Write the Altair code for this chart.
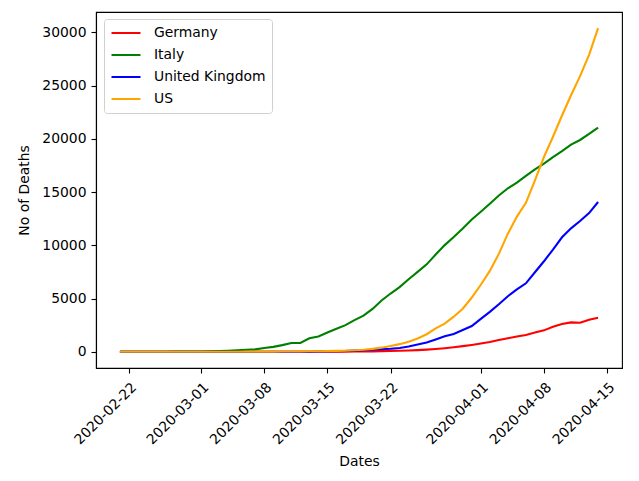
import altair as alt
import pandas as pd

dates = pd.date_range("2020-02-21", "2020-04-14", freq="D").strftime("%Y-%m-%dT00:00:00").tolist()

germany = [0]*17 + [0, 2, 2, 3, 3, 7, 9, 11, 17, 24, 28, 44, 67, 84, 94, 123, 157, 206, 267, 342,
           433, 533, 645, 775, 920, 1107, 1275, 1444, 1584, 1810, 2016, 2349, 2607, 2767, 2736,
           3022, 3194, 3294]
italy = [1, 2, 3, 7, 10, 12, 17, 21, 29, 34, 52, 79, 107, 148, 197, 233, 366, 463, 631, 827, 827,
         1266, 1441, 1809, 2158, 2503, 2978, 3405, 4032, 4825, 5476, 6077, 6820, 7503, 8215, 9134,
         10023, 10779, 11591, 12428, 13155, 13915, 14681, 15362, 15887, 16523, 17127, 17669, 18279,
         18849, 19468, 19899, 20465, 21067]
uk = [0]*13 + [1, 1, 2, 2, 3, 7, 7, 9, 10, 28, 43, 65, 81, 115, 158, 194, 250, 285, 359, 508, 694,
               877, 1161, 1455, 1669, 2043, 2425, 3095, 3747, 4461, 5221, 5865, 6433, 7471, 8505,
               9608, 10760, 11599, 12285, 13029, 14073]
us = [0]*9 + [1, 6, 7, 11, 12, 14, 17, 21, 22, 28, 36, 40, 47, 54, 63, 85, 108, 150, 200, 280, 390,
              550, 720, 950, 1250, 1650, 2200, 2650, 3300, 4050, 5100, 6300, 7600, 9200, 11100,
              12700, 14000, 16100, 18300, 20200, 22200, 24100, 25900, 27900, 30400]

countries = ["Germany", "Italy", "United Kingdom", "US"]
colors = ["#ff0000", "#008000", "#0000ff", "#ffa500"]
series = [germany, italy, uk, us]

rows = []
for c, vals in zip(countries, series):
    for d, v in zip(dates, vals):
        rows.append({"Date": d, "Deaths": v, "Country": c})
df = pd.DataFrame(rows)

tick_dates = [(2020, 2, 22), (2020, 3, 1), (2020, 3, 8), (2020, 3, 15), (2020, 3, 22),
              (2020, 4, 1), (2020, 4, 8), (2020, 4, 15)]
tick_vals = [alt.DateTime(year=y, month=m, date=d) for y, m, d in tick_dates]

FONT = "DejaVu Sans"
FS = 13.9

chart = alt.Chart(df).mark_line(strokeWidth=2.1).encode(
    x=alt.X("Date:T",
            scale=alt.Scale(domain=[alt.DateTime(year=2020, month=2, date=18, hours=8, minutes=24),
                                    alt.DateTime(year=2020, month=4, date=16, hours=15, minutes=36)],
                            nice=False),
            axis=alt.Axis(title="Dates", values=tick_vals, format="%Y-%m-%d",
                          labelAngle=315, labelAlign="right", labelBaseline="top",
                          labelPadding=7, tickSize=5, grid=False, labelOverlap=False,
                          titleY=93, titleBaseline="middle")),
    y=alt.Y("Deaths:Q",
            scale=alt.Scale(domain=[-1520, 31920], nice=False, zero=False),
            axis=alt.Axis(title="No of Deaths", values=[0, 5000, 10000, 15000, 20000, 25000, 30000],
                          format="d", tickSize=5, grid=False, labelPadding=5, labelOverlap=False,
                          titleX=-72, titleY=178, titleAngle=270, titleBaseline="middle",
                          titleAlign="center")),
    color=alt.Color("Country:N",
                    scale=alt.Scale(domain=countries, range=colors),
                    legend=alt.Legend(title=None, orient="none", legendX=8, legendY=7,
                                      symbolType="stroke", symbolSize=841, symbolStrokeWidth=2.1,
                                      labelFontSize=FS, labelFont=FONT, labelColor="black",
                                      labelOffset=12, clipHeight=16, rowPadding=6, padding=6,
                                      fillColor="white", strokeColor="#d0d0d0", cornerRadius=3)),
    order=alt.Order("Date:T"),
).properties(
    width=526, height=356,
    autosize=alt.AutoSizeParams(type="none"),
    padding={"left": 96, "top": 12, "right": 17, "bottom": 113},
    background="white",
).configure_view(
    stroke="black", strokeWidth=1.1
).configure_axis(
    labelFont=FONT, titleFont=FONT, labelFontSize=FS, titleFontSize=FS,
    labelColor="black", titleColor="black", titleFontWeight="normal",
    domainColor="black", tickColor="black", domainWidth=1.1, tickWidth=1.1,
)

chart.save("out.html", embed_options={"renderer": "svg", "actions": False})
